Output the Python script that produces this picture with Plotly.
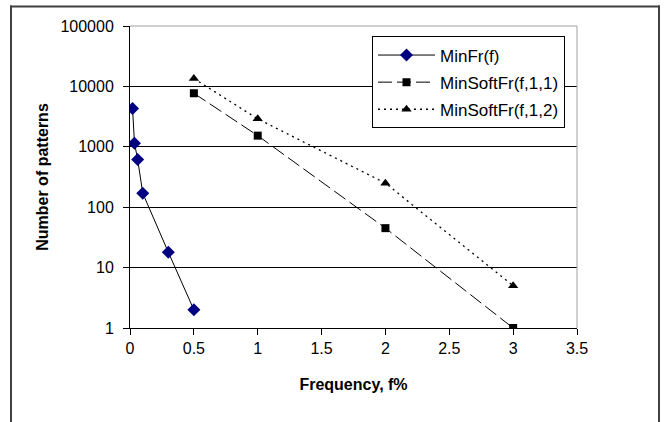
import plotly.graph_objects as go

# Data
minfr_x = [0.02, 0.035, 0.06, 0.1, 0.3, 0.5]
minfr_y = [4300, 1150, 615, 170, 18, 2]
soft11_x = [0.5, 1, 2, 3]
soft11_y = [7700, 1530, 45, 1]
soft12_x = [0.5, 1, 2, 3]
soft12_y = [13500, 2900, 250, 5]
names = ["MinFr(f)", "MinSoftFr(f,1,1)", "MinSoftFr(f,1,2)"]
x_ticks = [0, 0.5, 1, 1.5, 2, 2.5, 3, 3.5]
x_ticklabels = ["0", "0.5", "1", "1.5", "2", "2.5", "3", "3.5"]
y_ticks = [1, 10, 100, 1000, 10000, 100000]
y_ticklabels = ["1", "10", "100", "1000", "10000", "100000"]

FONT = "Liberation Sans, Arial, sans-serif"

fig = go.Figure()
fig.add_trace(go.Scatter(
    x=minfr_x, y=minfr_y, name=names[0], mode="lines+markers", legendgroup="a",
    line=dict(color="black", width=1),
    marker=dict(symbol="diamond", size=10, color="#000080"),
))
fig.add_trace(go.Scatter(
    x=soft11_x, y=soft11_y, name=names[1], mode="lines+markers", legendgroup="b",
    line=dict(color="black", width=1, dash="14px,5px"),
    marker=dict(symbol="square", size=8, color="black"),
))
fig.add_trace(go.Scatter(
    x=soft12_x, y=soft12_y, name=names[2], mode="lines+markers", legendgroup="c",
    line=dict(color="black", width=1.3, dash="2px,4px"),
    marker=dict(symbol="triangle-up", size=9, color="black"),
))

L, R, T, B = 130, 577, 25.5, 328
W, H = 671, 422
pw, ph = R - L, B - T

def px(x):
    return (x - L) / pw

def py(y):
    return (B - y) / ph

fig.update_layout(
    width=W, height=H,
    margin=dict(l=L, r=W - R, t=T, b=H - B, pad=0, autoexpand=False),
    paper_bgcolor="white", plot_bgcolor="white",
    font=dict(family=FONT, size=16, color="black"),
    showlegend=True,
    legend=dict(
        x=px(372), y=py(36), xanchor="left", yanchor="top",
        bordercolor="black", borderwidth=1, bgcolor="white",
        font=dict(family=FONT, size=17, color="black"),
        tracegroupgap=2, traceorder="grouped", itemwidth=57,
    ),
    xaxis=dict(
        range=[0, 3.5], tickvals=x_ticks, ticktext=x_ticklabels,
        showgrid=False, zeroline=False, automargin=False,
        showline=True, linecolor="black", linewidth=1,
        ticks="outside", ticklen=6, tickcolor="black",
        title=dict(text="<b>Frequency, f%</b>", standoff=22,
                   font=dict(family=FONT, size=16)),
    ),
    yaxis=dict(
        type="log", range=[0, 5], tickvals=y_ticks, ticktext=y_ticklabels,
        showgrid=True, gridcolor="black", gridwidth=1, zeroline=False,
        automargin=False,
        showline=True, linecolor="black", linewidth=1,
        ticks="outside", ticklen=6, tickcolor="black",
        ticklabelstandoff=6,
        title=dict(text="<b>Number of patterns</b>", standoff=7,
                   font=dict(family=FONT, size=16)),
    ),
    shapes=[
        dict(type="line", xref="paper", yref="paper", x0=0, x1=1, y0=1, y1=1,
             line=dict(color="#a0a0a0", width=1), layer="above"),
        dict(type="line", xref="paper", yref="paper", x0=1, x1=1, y0=0, y1=1,
             line=dict(color="#a0a0a0", width=1), layer="above"),
        dict(type="rect", xref="paper", yref="paper",
             x0=px(10), x1=px(660), y0=py(7), y1=py(5),
             line=dict(width=0), fillcolor="#404040", layer="above"),
        dict(type="rect", xref="paper", yref="paper",
             x0=px(10), x1=px(12), y0=py(5), y1=py(430),
             line=dict(width=0), fillcolor="#404040", layer="above"),
        dict(type="rect", xref="paper", yref="paper",
             x0=px(658), x1=px(660), y0=py(5), y1=py(430),
             line=dict(width=0), fillcolor="#404040", layer="above"),
    ],
)

fig.write_html(
    "out.html",
    config={"displayModeBar": False},
    post_script="document.body.style.margin='0';document.body.style.padding='0';",
)
